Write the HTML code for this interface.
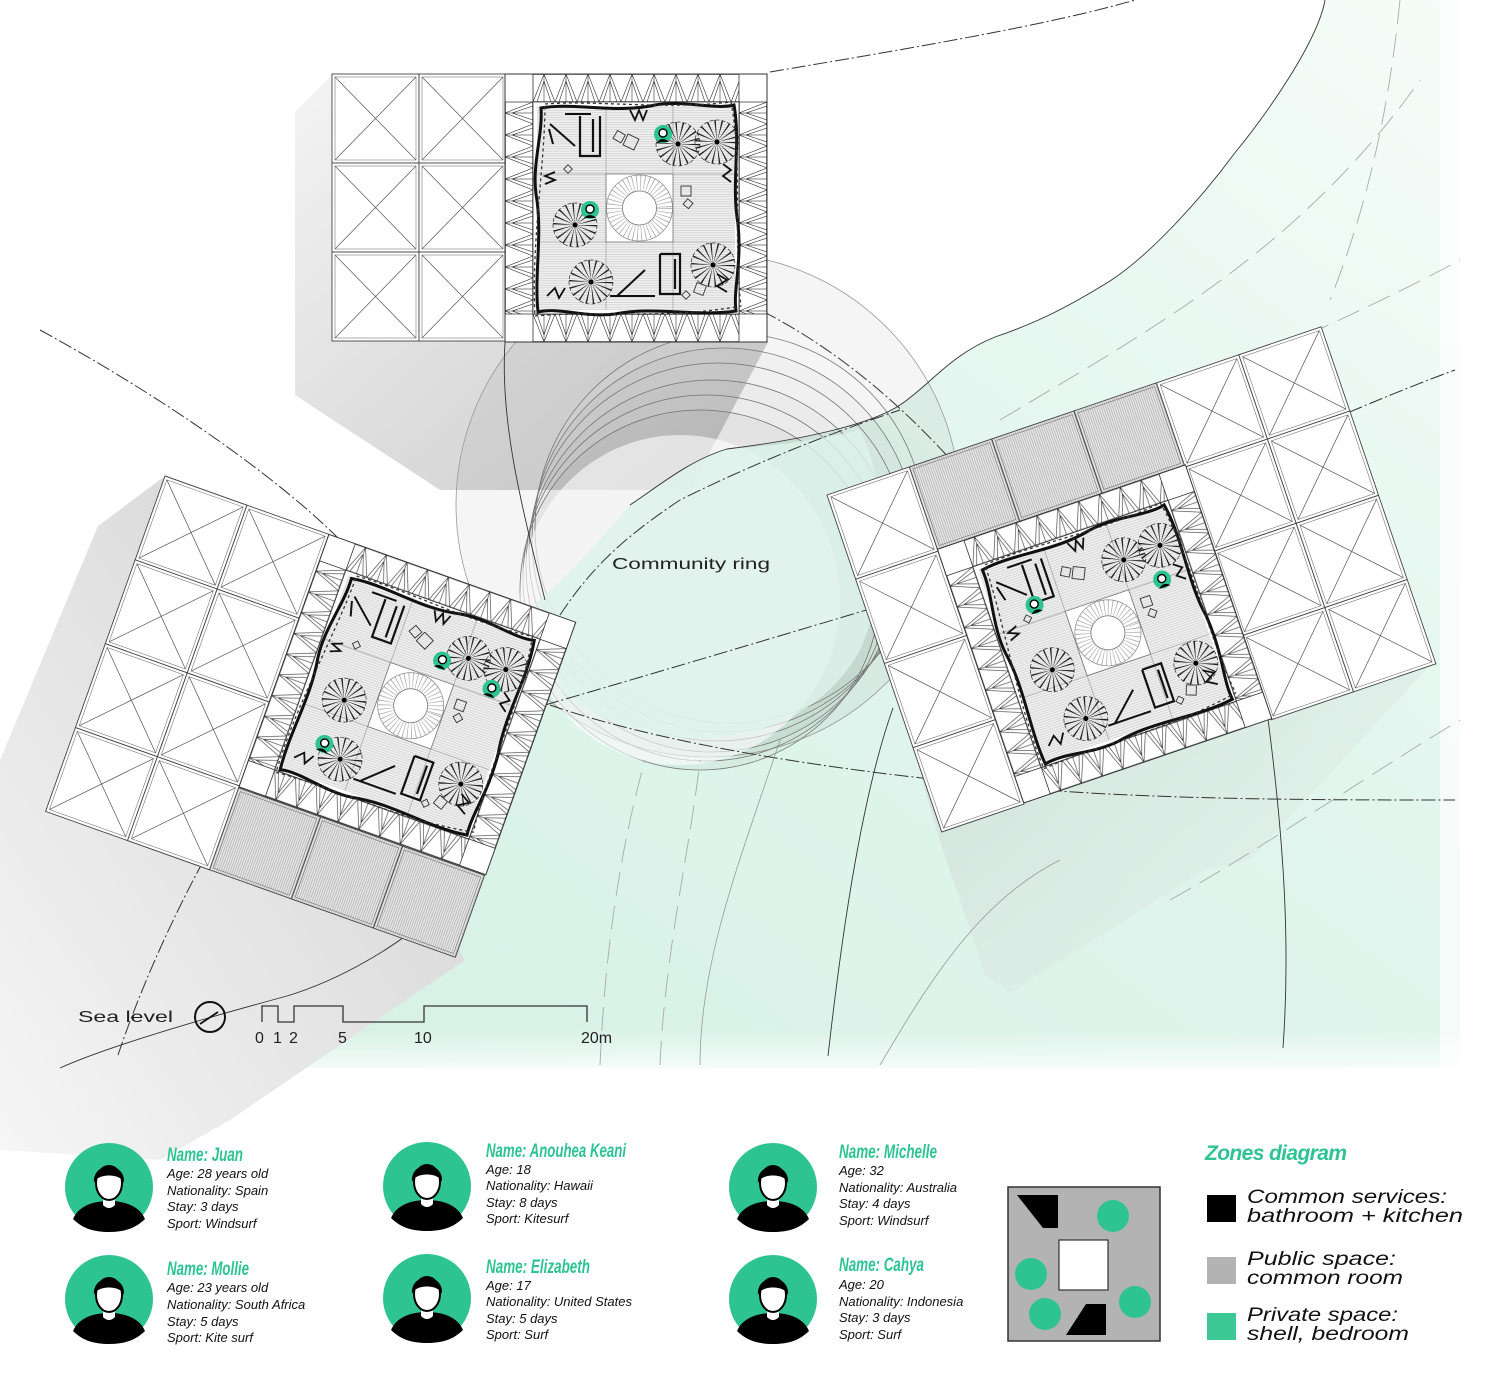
<!DOCTYPE html>
<html><head><meta charset="utf-8"><style>
html,body{margin:0;padding:0;background:#fff;}
svg{display:block;}
.nm{font-family:"Liberation Sans Narrow","Liberation Sans",sans-serif;font-style:italic;fill:#2ec492;font-size:19px;font-weight:bold;}
.dt{font-family:"Liberation Sans",sans-serif;font-style:italic;fill:#111;font-size:13px;}
.lg{font-family:"Liberation Sans",sans-serif;font-style:italic;fill:#111;font-size:19px;}
.sc{font-family:"Liberation Sans",sans-serif;fill:#222;font-size:16px;}
</style></head><body>
<svg width="1500" height="1395" viewBox="0 0 1500 1395" xmlns="http://www.w3.org/2000/svg">
<defs>
<linearGradient id="gGreen" x1="0" y1="1" x2="1" y2="0">
 <stop offset="0" stop-color="#d5f1e6"/><stop offset="0.55" stop-color="#e0f5ed"/><stop offset="1" stop-color="#f6fcf9"/>
</linearGradient>
<linearGradient id="gFade" x1="0" y1="0" x2="0" y2="1">
 <stop offset="0" stop-color="#fff" stop-opacity="0"/><stop offset="1" stop-color="#fff" stop-opacity="0.85"/>
</linearGradient>
<linearGradient id="gShL" x1="1" y1="0" x2="0" y2="1">
 <stop offset="0" stop-color="#cfcfcf"/><stop offset="1" stop-color="#f6f6f6"/>
</linearGradient>
<linearGradient id="gShT" x1="0" y1="0" x2="1" y2="1">
 <stop offset="0" stop-color="#f4f4f4"/><stop offset="0.6" stop-color="#dadada"/><stop offset="1" stop-color="#cdcdcd"/>
</linearGradient>
<linearGradient id="gShR" x1="0" y1="0" x2="1" y2="1">
 <stop offset="0" stop-color="#c3d3cc"/><stop offset="1" stop-color="#e6f3ee" stop-opacity="0.3"/>
</linearGradient>
<pattern id="trH" width="22" height="28" patternUnits="userSpaceOnUse" patternTransform="translate(28,0)">
 <path d="M0,28 L11,0 L22,28 M4,28 L11,7 L18,28 M0,0.5 H22 M0,27.5 H22 M11,0 V28" stroke="#333" stroke-width="0.6" fill="none"/></pattern>
<pattern id="trH2" width="22" height="28" patternUnits="userSpaceOnUse" patternTransform="translate(28,240)">
 <path d="M0,0 L11,28 L22,0 M4,0 L11,21 L18,0 M0,0.5 H22 M0,27.5 H22 M11,0 V28" stroke="#333" stroke-width="0.6" fill="none"/></pattern>
<pattern id="trV" width="22" height="28" patternUnits="userSpaceOnUse" patternTransform="translate(28,28) rotate(90)">
 <path d="M0,0 L11,28 L22,0 M4,0 L11,21 L18,0 M0,0.5 H22 M0,27.5 H22 M11,0 V28" stroke="#333" stroke-width="0.6" fill="none"/></pattern>
<pattern id="trV2" width="22" height="28" patternUnits="userSpaceOnUse" patternTransform="translate(262,28) rotate(90)">
 <path d="M0,0 L11,28 L22,0 M4,0 L11,21 L18,0 M0,0.5 H22 M0,27.5 H22 M11,0 V28" stroke="#333" stroke-width="0.6" fill="none"/></pattern>
<pattern id="floor" width="4" height="2.4" patternUnits="userSpaceOnUse">
 <rect width="4" height="2.4" fill="#efefef"/><path d="M0,0.3 H4" stroke="#c4c4c4" stroke-width="0.5"/></pattern>
<pattern id="hatch" width="2.2" height="4" patternUnits="userSpaceOnUse">
 <rect width="2.2" height="4" fill="#e4e4e4"/><path d="M0.3,0 V4" stroke="#9d9d9d" stroke-width="0.5"/></pattern>

<g id="xc"><rect width="87" height="89" fill="#fff" stroke="#444" stroke-width="0.9"/><rect x="3" y="3" width="81" height="83" fill="none" stroke="#777" stroke-width="0.6"/><path d="M3,3 L84,86 M84,3 L3,86" stroke="#555" stroke-width="0.7"/></g>
<g id="hc"><rect width="87" height="87" fill="url(#hatch)" stroke="#444" stroke-width="0.9"/><rect x="3" y="3" width="81" height="81" fill="none" stroke="#777" stroke-width="0.6"/></g>
<g id="fan"><circle r="11" fill="none" stroke="#222" stroke-width="22" stroke-dasharray="0.8 3.05"/><circle r="22" fill="none" stroke="#333" stroke-width="0.7" stroke-dasharray="4 2"/><circle r="2.5" fill="#000"/></g>
<g id="per"><circle r="9" fill="#2ec492"/><circle cy="-1" r="4" fill="#fff" stroke="#000" stroke-width="1.4"/><path d="M-6,8 Q0,2 6,8" fill="#000"/></g>
<g id="plan">
 <rect width="262" height="268" fill="#fff" stroke="#333" stroke-width="1"/>
 <rect x="28" y="0" width="206" height="28" fill="url(#trH)"/>
 <rect x="28" y="240" width="206" height="28" fill="url(#trH2)"/>
 <rect x="0" y="28" width="28" height="212" fill="url(#trV)"/>
 <rect x="234" y="28" width="28" height="212" fill="url(#trV2)"/>
 <path d="M0,28 H262 M0,240 H262 M28,0 V268 M234,0 V268" stroke="#333" stroke-width="0.8"/>
 <rect x="32" y="32" width="198" height="204" fill="url(#floor)"/>
 <path d="M101,32 V236 M168,32 V236 M32,100 H230 M32,168 H230" stroke="#aaa" stroke-width="0.8"/>
 <rect x="101" y="100" width="67" height="68" fill="#fff" stroke="#777" stroke-width="0.8"/>
 <circle cx="134.5" cy="134" r="25" fill="none" stroke="#aaa" stroke-width="16" stroke-dasharray="0.7 3"/>
 <circle cx="134.5" cy="134" r="33" fill="none" stroke="#888" stroke-width="0.7"/>
 <circle cx="134.5" cy="134" r="17" fill="#fff" stroke="#777" stroke-width="0.8"/>
 <path d="M36,34 C70,28 110,40 150,31 C180,26 210,36 229,31 C236,70 226,110 233,150 C237,190 228,215 231,237 C190,243 150,232 110,240 C80,244 55,233 33,238 C29,200 38,160 31,120 C27,90 38,60 36,34 Z" fill="none" stroke="#111" stroke-width="3"/>
 <path d="M40,30 C90,26 160,36 226,28 C238,90 228,170 236,232 C160,246 90,236 30,242 C26,170 40,90 40,30 Z" fill="none" stroke="#333" stroke-width="1.3" stroke-dasharray="3 3"/>
 <use href="#fan" x="70" y="151"/><use href="#fan" x="86" y="208"/><use href="#fan" x="173" y="70"/><use href="#fan" x="212" y="68"/><use href="#fan" x="208" y="191"/>
 <path d="M45,50 L70,72 M44,55 L48,70 M60,40 L86,40" stroke="#111" stroke-width="2" fill="none"/>
 <path d="M75,42 V82 H95 V42 M88,45 V78" stroke="#111" stroke-width="2.2" fill="none"/>
 <path d="M155,180 V220 H175 V180 H155 M170,185 V215" stroke="#111" stroke-width="2.2" fill="none"/>
 <path d="M112,222 L140,196 M105,222 H150" stroke="#111" stroke-width="2" fill="none"/>
 <path d="M125,36 L130,46 L134,36 L138,46 L142,36 M40,110 L50,106 L40,102 L50,98 M218,90 L226,96 L218,102 L226,108 M42,222 L50,214 L54,224 L60,214 M212,200 L222,206 L212,212 L222,218" stroke="#111" stroke-width="1.8" fill="none"/>
 <g fill="none" stroke="#333" stroke-width="0.9">
  <rect x="110" y="58" width="9" height="9" transform="rotate(30 114 62)"/><rect x="120" y="62" width="12" height="12" transform="rotate(25 126 68)"/><rect x="176" y="112" width="10" height="10"/><rect x="180" y="126" width="7" height="7" transform="rotate(40 183 129)"/><rect x="60" y="92" width="6" height="6" transform="rotate(45 63 95)"/><rect x="190" y="210" width="10" height="10" transform="rotate(20 195 215)"/><rect x="178" y="218" width="6" height="6" transform="rotate(45 181 221)"/>
 </g>
</g>
<g id="av">
 <circle r="44" fill="#2ec492"/>
 <path d="M-36,32 C-30,18 -14,14 0,14 C14,14 30,18 36,32 C26,42 14,45 0,45 C-14,45 -26,42 -36,32 Z" fill="#000"/>
 <path d="M-6,8 V18 Q0,24 6,18 V8 Z" fill="#fff"/>
 <ellipse cx="0" cy="-4" rx="13" ry="17" fill="#fff" stroke="#000" stroke-width="2"/>
 <path d="M-15,-4 C-17,-26 17,-26 15,-4 C12,-14 -12,-14 -15,-4 Z" fill="#000"/>
</g>
</defs>

<rect width="1500" height="1395" fill="#fff"/>

<path d="M1325,0 C1318,40 1270,110 1234,154 C1200,200 1150,255 1110,281 C1060,312 1030,325 995,337 C950,355 930,385 900,405 C870,425 800,440 727,449 C690,460 660,485 630,505 C600,540 570,575 536,603 C500,700 480,800 470,870 C430,920 400,945 383,947 C340,975 300,995 287,996 C240,1015 200,1025 191,1025 C130,1040 90,1055 60,1068 L1460,1068 L1460,0 Z" fill="url(#gGreen)"/>
<rect x="0" y="1030" width="1500" height="45" fill="url(#gFade)"/>
<rect x="1440" y="0" width="60" height="1080" fill="#fff" opacity="0.7"/>

<polygon points="165,476 98,526 0,760 0,1150 160,1160 230,1120 465,960" fill="url(#gShL)"/>
<polygon points="332,75 295,112 295,395 440,490 690,490 768,342" fill="url(#gShT)"/>
<polygon points="827,495 860,560 938,835 985,975 1010,993 1205,870 1250,860 1433,662" fill="url(#gShR)"/>

<circle cx="708" cy="505" r="252" fill="#000" fill-opacity="0.04" stroke="#999" stroke-width="0.8"/>
<g fill="none" stroke="#777" stroke-width="0.8">
 <circle cx="700" cy="590" r="180" fill="#000" fill-opacity="0.03"/>
 <circle cx="706" cy="578" r="183"/>
 <circle cx="712" cy="566" r="186" fill="#000" fill-opacity="0.02"/>
 <circle cx="718" cy="552" r="189"/>
 <circle cx="724" cy="540" r="192" fill="#000" fill-opacity="0.02"/>
 <circle cx="730" cy="528" r="195"/>
</g>
<ellipse cx="680" cy="600" rx="160" ry="165" fill="#fff" fill-opacity="0.6"/>
<path d="M727,449 C690,460 660,485 630,505 C600,540 570,575 536,603 L560,690 C640,760 800,760 860,650 C900,560 880,470 860,430 C820,440 780,445 727,449 Z" fill="#dff4ec" fill-opacity="0.8"/>

<g fill="none" stroke="#333" stroke-width="1" stroke-dasharray="14 3 2 3">
 <path d="M770,72 C900,50 1050,25 1135,0"/>
 <path d="M40,330 C150,390 270,470 340,540"/>
 <path d="M118,1055 C150,960 200,860 245,790"/>
 <path d="M545,705 C700,660 900,600 1000,570 C1120,530 1200,480 1250,455 C1330,420 1400,390 1455,370"/>
 <path d="M550,705 C650,740 800,765 940,780 C1100,800 1300,800 1455,800"/>
 <path d="M560,615 C590,570 620,540 680,500 C760,460 840,430 900,410"/>
 <path d="M640,265 C780,300 880,380 960,470 C990,500 1020,520 1040,560"/>
</g>
<g fill="none" stroke="#333" stroke-width="0.9">
 <path d="M1325,0 C1318,40 1270,110 1234,154 C1200,200 1150,255 1110,281 C1060,312 1030,325 995,337 C950,355 930,385 900,405 C870,425 800,440 727,449 C690,460 660,485 630,505"/>
 <path d="M60,1068 C100,1050 180,1025 287,996 C340,980 400,945 430,915"/>
 <path d="M1268,719 C1285,850 1290,950 1283,1048"/>
 <path d="M893,708 C860,800 840,950 828,1056"/>
 <path d="M505,342 C500,420 520,500 545,600"/>
</g>
<g fill="none" stroke="#aaa" stroke-width="0.9" stroke-dasharray="24 10">
 <path d="M600,1065 C605,950 620,850 645,760"/>
 <path d="M660,1065 C665,950 690,850 700,760"/>
 <path d="M1170,900 C1260,850 1360,780 1460,720"/>
 <path d="M1000,420 C1150,330 1300,250 1420,80"/>
 <path d="M1060,450 C1200,380 1350,320 1460,260"/>
 <path d="M1400,0 C1390,100 1370,200 1330,300"/>
</g>
<g fill="none" stroke="#999" stroke-width="0.8">
 <path d="M700,1065 C700,960 740,860 780,740"/>
 <path d="M880,1065 C930,980 980,900 1060,860"/>
</g>

<g transform="translate(332,74)">
 <use href="#xc" x="0" y="0"/><use href="#xc" x="87" y="0"/><use href="#xc" x="0" y="89"/><use href="#xc" x="87" y="89"/><use href="#xc" x="0" y="178"/><use href="#xc" x="87" y="178"/>
 <g transform="translate(173,0)"><use href="#plan"/><use href="#per" x="158" y="60"/><use href="#per" x="85" y="136"/></g>
</g>
<g transform="translate(165,476) rotate(19.6)">
 <use href="#xc" x="0" y="0"/><use href="#xc" x="87" y="0"/><use href="#xc" x="0" y="89"/><use href="#xc" x="87" y="89"/><use href="#xc" x="0" y="178"/><use href="#xc" x="87" y="178"/><use href="#xc" x="0" y="267"/><use href="#xc" x="87" y="267"/>
 <use href="#hc" x="174" y="269"/><use href="#hc" x="261" y="269"/><use href="#hc" x="348" y="269"/>
 <g transform="translate(174,0)"><use href="#plan"/><use href="#per" x="149" y="81"/><use href="#per" x="205" y="91"/><use href="#per" x="66" y="199"/></g>
</g>
<g transform="translate(827,495) rotate(-18.8)">
 <use href="#xc" x="0" y="0"/><use href="#xc" x="0" y="89"/><use href="#xc" x="0" y="178"/><use href="#xc" x="0" y="267"/>
 <use href="#hc" x="87" y="0"/><use href="#hc" x="174" y="0"/><use href="#hc" x="261" y="0"/>
 <use href="#xc" x="348" y="0"/><use href="#xc" x="435" y="0"/><use href="#xc" x="348" y="89"/><use href="#xc" x="435" y="89"/><use href="#xc" x="348" y="178"/><use href="#xc" x="435" y="178"/><use href="#xc" x="348" y="267"/><use href="#xc" x="435" y="267"/>
 <g transform="translate(87,87)"><use href="#plan"/><use href="#per" x="74" y="84"/><use href="#per" x="203" y="101"/></g>
</g>

<text x="612" y="569" class="sc" textLength="158" lengthAdjust="spacingAndGlyphs">Community ring</text>

<text x="78" y="1022" class="sc" textLength="95" lengthAdjust="spacingAndGlyphs">Sea level</text>
<circle cx="210" cy="1017" r="15" fill="none" stroke="#111" stroke-width="2"/>
<path d="M200,1024 L218,1012" stroke="#111" stroke-width="1.8"/>
<path d="M262,1022 V1006 H278 V1022 H294 V1006 H343 V1022 H424 V1006 H587 V1022" fill="none" stroke="#333" stroke-width="1.3"/>
<g class="sc"><text x="255" y="1043">0</text><text x="273" y="1043">1</text><text x="289" y="1043">2</text><text x="338" y="1043">5</text><text x="414" y="1043">10</text><text x="581" y="1043">20m</text></g>

<use href="#av" x="109" y="1187"/><use href="#av" x="109" y="1299"/>
<use href="#av" x="427" y="1186"/><use href="#av" x="427" y="1298"/>
<use href="#av" x="773" y="1187"/><use href="#av" x="773" y="1299"/>

<text x="167" y="1161" class="nm" textLength="76" lengthAdjust="spacingAndGlyphs">Name: Juan</text>
<text x="167" y="1178" class="dt">Age: 28 years old</text>
<text x="167" y="1195" class="dt">Nationality: Spain</text>
<text x="167" y="1211" class="dt">Stay: 3 days</text>
<text x="167" y="1228" class="dt">Sport: Windsurf</text>

<text x="167" y="1275" class="nm" textLength="82" lengthAdjust="spacingAndGlyphs">Name: Mollie</text>
<text x="167" y="1292" class="dt">Age: 23 years old</text>
<text x="167" y="1309" class="dt">Nationality: South Africa</text>
<text x="167" y="1326" class="dt">Stay: 5 days</text>
<text x="167" y="1342" class="dt">Sport: Kite surf</text>

<text x="486" y="1157" class="nm" textLength="140" lengthAdjust="spacingAndGlyphs">Name: Anouhea Keani</text>
<text x="486" y="1174" class="dt">Age: 18</text>
<text x="486" y="1190" class="dt">Nationality: Hawaii</text>
<text x="486" y="1207" class="dt">Stay: 8 days</text>
<text x="486" y="1223" class="dt">Sport: Kitesurf</text>

<text x="486" y="1273" class="nm" textLength="104" lengthAdjust="spacingAndGlyphs">Name: Elizabeth</text>
<text x="486" y="1290" class="dt">Age: 17</text>
<text x="486" y="1306" class="dt">Nationality: United States</text>
<text x="486" y="1323" class="dt">Stay: 5 days</text>
<text x="486" y="1339" class="dt">Sport: Surf</text>

<text x="839" y="1158" class="nm" textLength="98" lengthAdjust="spacingAndGlyphs">Name: Michelle</text>
<text x="839" y="1175" class="dt">Age: 32</text>
<text x="839" y="1192" class="dt">Nationality: Australia</text>
<text x="839" y="1208" class="dt">Stay: 4 days</text>
<text x="839" y="1225" class="dt">Sport: Windsurf</text>

<text x="839" y="1271" class="nm" textLength="85" lengthAdjust="spacingAndGlyphs">Name: Cahya</text>
<text x="839" y="1289" class="dt">Age: 20</text>
<text x="839" y="1306" class="dt">Nationality: Indonesia</text>
<text x="839" y="1322" class="dt">Stay: 3 days</text>
<text x="839" y="1339" class="dt">Sport: Surf</text>

<text x="1205" y="1160" class="nm" style="font-size:21px" textLength="142" lengthAdjust="spacing">Zones diagram</text>
<rect x="1008" y="1187" width="152" height="154" fill="#b3b3b3" stroke="#333" stroke-width="1.5"/>
<polygon points="1017,1195 1058,1195 1058,1228 1043,1228" fill="#000"/>
<polygon points="1066,1335 1086,1304 1106,1304 1106,1335" fill="#000"/>
<rect x="1059" y="1240" width="49" height="50" fill="#fff" stroke="#333" stroke-width="1.2"/>
<circle cx="1113" cy="1216" r="16" fill="#2ec492"/>
<circle cx="1031" cy="1274" r="16" fill="#2ec492"/>
<circle cx="1045" cy="1314" r="16" fill="#2ec492"/>
<circle cx="1135" cy="1302" r="16" fill="#2ec492"/>

<rect x="1207" y="1195" width="29" height="27" fill="#000"/>
<rect x="1207" y="1257" width="29" height="27" fill="#b3b3b3"/>
<rect x="1207" y="1313" width="29" height="27" fill="#3cc996"/>
<text x="1247" y="1203" class="lg" textLength="200" lengthAdjust="spacingAndGlyphs">Common services:</text>
<text x="1247" y="1222" class="lg" textLength="216" lengthAdjust="spacingAndGlyphs">bathroom + kitchen</text>
<text x="1247" y="1265" class="lg" textLength="149" lengthAdjust="spacingAndGlyphs">Public space:</text>
<text x="1247" y="1284" class="lg" textLength="156" lengthAdjust="spacingAndGlyphs">common room</text>
<text x="1247" y="1321" class="lg" textLength="151" lengthAdjust="spacingAndGlyphs">Private space:</text>
<text x="1247" y="1340" class="lg" textLength="162" lengthAdjust="spacingAndGlyphs">shell, bedroom</text>
</svg>
</body></html>
